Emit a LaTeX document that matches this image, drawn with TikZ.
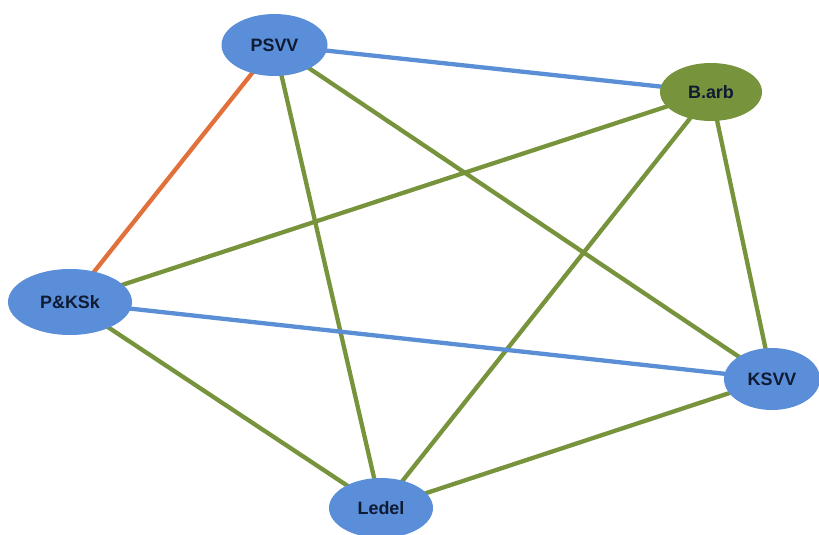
\documentclass[tikz,border=0pt]{standalone}
\usepackage{fontspec}
\setmainfont{Liberation Sans}
\usetikzlibrary{shapes.geometric,backgrounds}
\definecolor{nodeblue}{HTML}{5A8ED8}
\definecolor{lineblue}{HTML}{5A8FD6}
\definecolor{olive}{HTML}{77933C}
\definecolor{orangeline}{HTML}{E2703A}
\definecolor{txt}{HTML}{0F1A33}
\begin{document}
\begin{tikzpicture}[x=1bp,y=-1bp,
  vertex/.style={ellipse,fill=nodeblue,inner sep=0pt,text=txt,
    font=\fontsize{18}{21}\selectfont\bfseries},
  greenvertex/.style={vertex,fill=olive},
  conn/.style={line width=4.3bp},
  gline/.style={conn,draw=olive},
  bline/.style={conn,draw=lineblue},
  oline/.style={conn,draw=orangeline}]
\useasboundingbox (0,0) rectangle (819,535);
\node[vertex,minimum width=106bp,minimum height=62bp] (psvv) at (274.5,45) {PSVV};
\node[greenvertex,minimum width=102bp,minimum height=58bp] (barb) at (711,92) {B.arb};
\node[vertex,minimum width=124bp,minimum height=66bp] (pksk) at (70,302) {P\&KSk};
\node[vertex,minimum width=96bp,minimum height=62bp] (ksvv) at (772,379) {KSVV};
\node[vertex,minimum width=104bp,minimum height=60bp] (ledel) at (381,508) {Ledel};
\begin{scope}[on background layer]
\draw[bline] (psvv.center) -- (barb.center);
\draw[oline] (psvv.center) -- (pksk.center);
\draw[gline] (psvv.center) -- (ledel.center);
\draw[gline] (psvv.center) -- (ksvv.center);
\draw[gline] (barb.center) -- (pksk.center);
\draw[gline] (barb.center) -- (ledel.center);
\draw[gline] (barb.center) -- (ksvv.center);
\draw[bline] (pksk.center) -- (ksvv.center);
\draw[gline] (pksk.center) -- (ledel.center);
\draw[gline] (ksvv.center) -- (ledel.center);
\end{scope}
\end{tikzpicture}
\end{document}
